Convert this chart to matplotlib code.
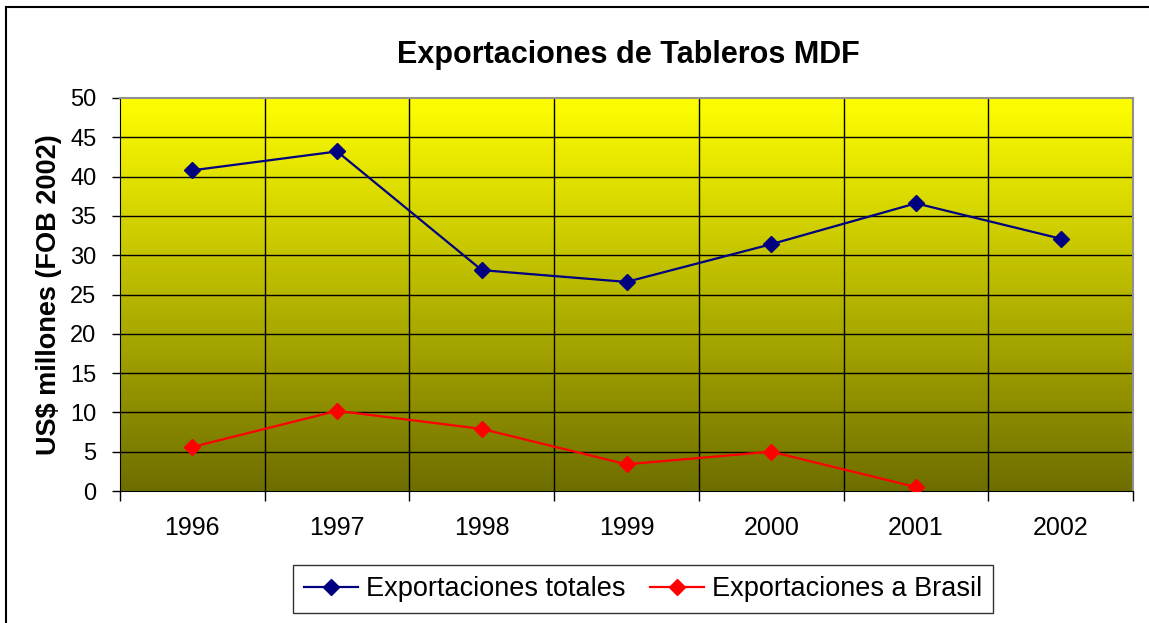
import matplotlib
matplotlib.use("Agg")
import matplotlib.pyplot as plt
import numpy as np
from matplotlib.lines import Line2D

years = ["1996", "1997", "1998", "1999", "2000", "2001", "2002"]
totales = [40.8, 43.2, 28.1, 26.6, 31.4, 36.6, 32.1]
brasil = [5.6, 10.2, 7.9, 3.4, 5.0, 0.5]

plt.rcParams['font.family'] = ['Liberation Sans', 'DejaVu Sans']

fig = plt.figure(figsize=(11.49, 6.23), dpi=100)
ax = fig.add_axes([120/1149, 132/623, 1013/1149, 393/623])

# gradient background
top = np.array([255, 255, 0]) / 255
bot = np.array([110, 110, 0]) / 255
t = np.linspace(0, 1, 256)[:, None]
grad = (top[None, :] * (1 - t) + bot[None, :] * t)[:, None, :]
ax.imshow(grad, extent=[-0.5, 6.5, 0, 50], aspect='auto', zorder=0, origin='upper')

x = np.arange(len(years))
ax.plot(x, totales, color='#000080', lw=1.6, marker='D', ms=8, zorder=3,
        label='Exportaciones totales')
ax.plot(x[:len(brasil)], brasil, color='#FF0000', lw=1.6, marker='D', ms=8, zorder=3,
        label='Exportaciones a Brasil')

ax.set_xlim(-0.5, 6.5)
ax.set_ylim(0, 50)
ax.set_yticks(np.arange(0, 51, 5))
ax.set_xticks(np.arange(-0.5, 7, 1))
ax.set_xticklabels([])
ax.set_xticks(x, minor=True)
ax.set_xticklabels(years, minor=True)
ax.tick_params(axis='x', which='minor', length=0, pad=18, labelsize=18)
ax.tick_params(axis='x', which='major', length=7, direction='out', width=1)
ax.tick_params(axis='y', length=6, direction='out', width=1, labelsize=17, pad=11)

for v in np.arange(5, 50, 5):
    ax.axhline(v, color='black', lw=1, zorder=1)
for v in np.arange(0.5, 6, 1):
    ax.axvline(v, color='black', lw=1, zorder=1)

ax.spines['top'].set_color('#909090')
ax.spines['right'].set_color('#909090')
ax.spines['top'].set_linewidth(1.5)
ax.spines['right'].set_linewidth(1.5)

ax.set_ylabel('US$ millones (FOB 2002)', fontsize=19.5, fontweight='bold', labelpad=6)
fig.text(628/1149, 1 - 55/623, 'Exportaciones de Tableros MDF', ha='center', va='center',
         fontsize=22, fontweight='bold')

leg = fig.legend(loc='center', bbox_to_anchor=(643/1149, 1 - 589/623), ncol=2,
                 fontsize=19.5, frameon=True, fancybox=False, edgecolor='black',
                 handlelength=2.0, handletextpad=0.3, columnspacing=0.9,
                 borderpad=0.4)
leg.get_frame().set_linewidth(1)

# figure border (top and left)
fig.add_artist(Line2D([6/1149, 1], [1 - 7/623, 1 - 7/623], color='black', lw=1.5,
                      transform=fig.transFigure))
fig.add_artist(Line2D([6/1149, 6/1149], [0, 1 - 7/623], color='black', lw=1.5,
                      transform=fig.transFigure))

fig.savefig('out.png', dpi=100)
